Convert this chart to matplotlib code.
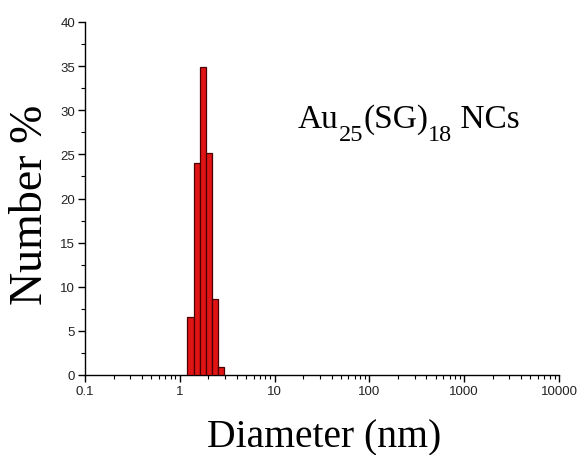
import numpy as np
import matplotlib.pyplot as plt
from matplotlib.ticker import FixedLocator, LogLocator, NullFormatter, MultipleLocator

# Size distribution (DLS, number-weighted)
diameters = [1.295, 1.504, 1.748, 2.031, 2.36, 2.74]   # bin centres, nm
number_pct = [6.6, 24.0, 34.9, 25.1, 8.6, 0.9]         # Number %
bin_ratio = 1.162                                      # log-spaced bin width

x_ticks = [0.1, 1, 10, 100, 1000, 10000]
x_tick_labels = ["0.1", "1", "10", "100", "1000", "10000"]
y_ticks = [0, 5, 10, 15, 20, 25, 30, 35, 40]

# label pieces: (text, is_subscript)
sample_label = [("Au", False), ("25", True), ("(SG)", False), ("18", True), (" NCs", False)]

W, H, DPI = 587, 456, 100
fig = plt.figure(figsize=(W / DPI, H / DPI), dpi=DPI)
ax = fig.add_axes([85 / W, 1 - 376 / H, 474 / W, 353 / H])

d = np.array(diameters)
left = d / np.sqrt(bin_ratio)
right = d * np.sqrt(bin_ratio)
ax.bar(left, number_pct, width=right - left, align="edge",
       facecolor="#e01414", edgecolor="#4a0000", linewidth=0.9, zorder=3)

ax.set_xscale("log")
ax.set_xlim(0.1, 10000)
ax.set_ylim(0, 40)

ax.xaxis.set_major_locator(FixedLocator(x_ticks))
ax.set_xticklabels(x_tick_labels)
ax.xaxis.set_minor_locator(LogLocator(base=10, subs=np.arange(2, 10)))
ax.xaxis.set_minor_formatter(NullFormatter())
ax.set_yticks(y_ticks)
ax.yaxis.set_minor_locator(MultipleLocator(2.5))

for side in ("top", "right"):
    ax.spines[side].set_visible(False)
for side in ("left", "bottom"):
    ax.spines[side].set_linewidth(1.0)
    ax.spines[side].set_color("black")

ax.tick_params(which="major", direction="out", length=5, width=1,
               labelsize=9.5, pad=2, labelcolor="#222222")
ax.tick_params(which="minor", direction="out", length=3, width=0.8)
for lab in ax.get_xticklabels() + ax.get_yticklabels():
    lab.set_fontfamily("Liberation Sans")

ax.set_xlabel("Diameter (nm)", fontfamily="Liberation Serif", fontsize=28.5)
ax.xaxis.label.set_va("baseline")
ax.xaxis.set_label_coords(0.505, -0.201)
ax.set_ylabel("Number %", fontfamily="Liberation Serif", fontsize=33)
ax.yaxis.label.set_va("center")
ax.yaxis.set_label_coords(-0.114, 0.484)

# Sample label with large subscripts, laid out piece by piece
fig.canvas.draw()
renderer = fig.canvas.get_renderer()
x_px, base_px = 298.0, H - 128.0
for text, sub in sample_label:
    t = fig.text(x_px / W, (base_px - (13 if sub else 0)) / H, text,
                 fontfamily="Liberation Serif", fontsize=17.5 if sub else 24,
                 ha="left", va="baseline")
    x_px += t.get_window_extent(renderer).width

fig.savefig("out.png", dpi=DPI, facecolor="white")
